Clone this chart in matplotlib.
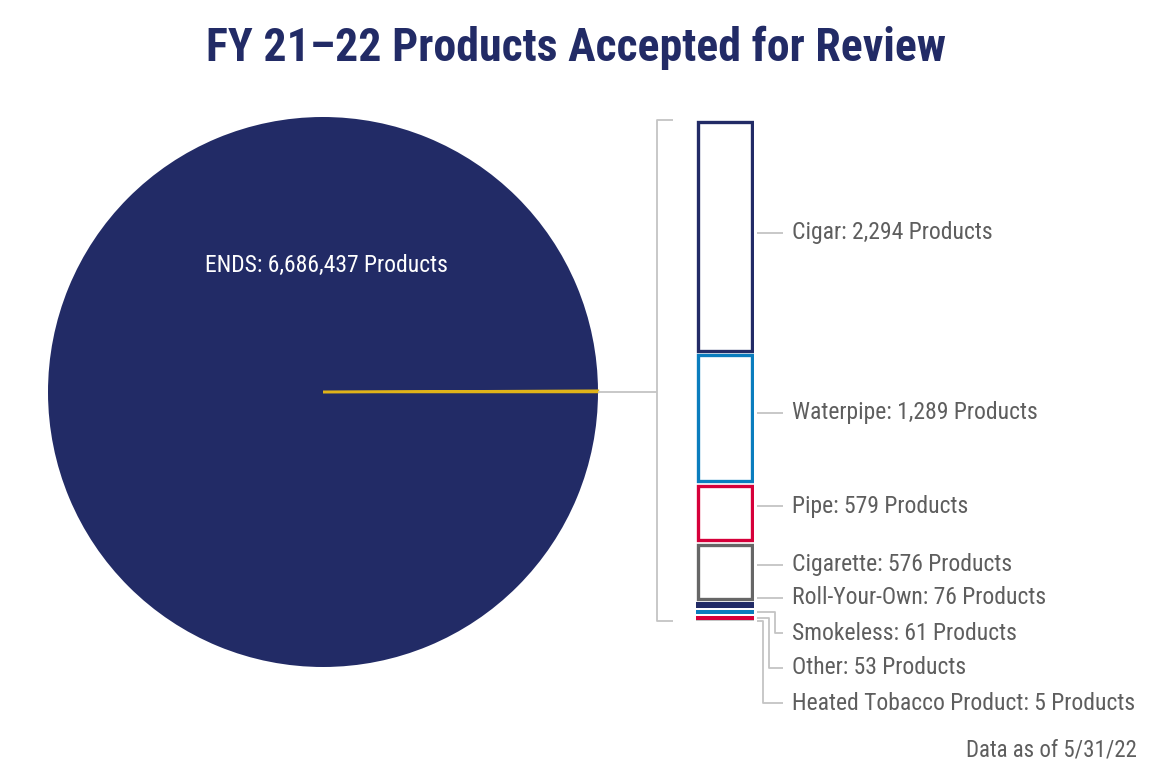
import numpy as np
import matplotlib
matplotlib.use("Agg")
from matplotlib import pyplot as plt
from matplotlib import font_manager

# data
ends_label = "ENDS"
ends_count = 6686437
categories = ["Cigar", "Waterpipe", "Pipe", "Cigarette", "Roll-Your-Own",
              "Smokeless", "Other", "Heated Tobacco Product"]
counts = [2294, 1289, 579, 576, 76, 61, 53, 5]

NAVY = "#222b66"
BLUE = "#0a7dbe"
RED = "#d6003a"
GRAY = "#666666"
LIGHT = "#c4c4c4"
GOLD = "#e0b319"
TEXT = "#5e5e5e"
seg_colors = [NAVY, BLUE, RED, GRAY, NAVY, BLUE, RED, LIGHT]


def weight_num(w):
    if isinstance(w, (int, float)):
        return w
    return font_manager.weight_dict.get(w, 400)


def is_condensed(f):
    st = f.stretch
    if isinstance(st, str):
        return "condensed" in st or "narrow" in st.lower()
    return st <= 600


# look for a condensed face (regular + bold), else fall back to Roboto
cond = [f for f in font_manager.fontManager.ttflist
        if (is_condensed(f) or "Condensed" in f.name or "Narrow" in f.name)
        and f.style == "normal"]
prefer = ["Roboto Condensed", "Roboto", "Liberation Sans Narrow", "Noto Sans",
          "Open Sans", "DejaVu Sans Condensed", "DejaVu Sans"]
reg_fp = bold_fp = None
for fam in prefer:
    fs = [f for f in cond if f.name == fam]
    regs = [f for f in fs if 350 <= weight_num(f.weight) <= 450]
    bolds = [f for f in fs if weight_num(f.weight) >= 600]
    if regs and bolds:
        reg_fp = font_manager.FontProperties(fname=regs[0].fname)
        bolds.sort(key=lambda f: abs(weight_num(f.weight) - 700))
        bold_fp = font_manager.FontProperties(fname=bolds[0].fname)
        break
if reg_fp is None:
    reg_fp = font_manager.FontProperties(family="Roboto")
    bold_fp = font_manager.FontProperties(family="Roboto", weight="bold")
    LABEL_SIZE, ENDS_SIZE, TITLE_SIZE, NOTE_SIZE = 15.5, 15.5, 30, 14
else:
    LABEL_SIZE, ENDS_SIZE, TITLE_SIZE, NOTE_SIZE = 17, 17, 33, 16.5

W, H = 1151, 776
fig = plt.figure(figsize=(W / 100, H / 100), dpi=100)

# overlay axes in pixel coordinates for text and leader lines
ov = fig.add_axes([0, 0, 1, 1])
ov.set_xlim(0, W)
ov.set_ylim(H, 0)
ov.axis("off")
ov.set_zorder(5)


def px_box(x0, y0, x1, y1):
    return [x0 / W, 1 - y1 / H, (x1 - x0) / W, (y1 - y0) / H]


# pie
cx, cy, r = 323, 392, 275
ax_pie = fig.add_axes(px_box(cx - r, cy - r, cx + r, cy + r))
others_total = sum(counts)
wedges, _ = ax_pie.pie([others_total, ends_count], colors=[GOLD, NAVY],
                       startangle=0, counterclock=True, radius=1,
                       wedgeprops=dict(linewidth=0))
wedges[0].set_edgecolor(GOLD)
wedges[0].set_linewidth(1.8)
wedges[0].set_zorder(3)
ax_pie.set_xlim(-1, 1)
ax_pie.set_ylim(-1, 1)
ax_pie.set_aspect("equal")
ax_pie.axis("off")
ov.text(cx + 3, 265, f"{ends_label}: {ends_count:,} Products", color="white",
        fontproperties=reg_fp, fontsize=ENDS_SIZE, ha="center", va="center")

# stacked bar
bx0, bx1, by0, by1 = 696, 754, 120, 621
ax_bar = fig.add_axes(px_box(bx0, by0, bx1, by1))
total = sum(counts)
ax_bar.set_xlim(0, 1)
ax_bar.set_ylim(total, 0)
ax_bar.axis("off")
per_px = total / (by1 - by0)
bottoms = np.concatenate([[0], np.cumsum(counts)[:-1]])
lw = 2.4
half_lw_px = lw * 100 / 72 / 2
for val, b, col in zip(counts, bottoms, seg_colors):
    if val > 300:
        inset = (0.8 + half_lw_px) * per_px
        ax_bar.bar(0.5, val - 2 * inset, bottom=b + inset,
                   width=1 - 2 * half_lw_px / (bx1 - bx0),
                   facecolor="white", edgecolor=col, linewidth=lw)
    else:
        h = max(val - 1.5 * per_px, 1.2 * per_px)
        ax_bar.bar(0.5, h, bottom=b + (val - h) / 2, width=1.0,
                   facecolor=col, edgecolor="none")


# helper: bar data y -> overlay pixel y
def bar_y_px(v):
    disp = ax_bar.transData.transform((0, v))
    return ov.transData.inverted().transform(disp)[1]


mids = [b + v / 2 for b, v in zip(bottoms, counts)]
label_y = [233, 413, 506, 565, 598, 633, 668, 703]
elbow_x = [None, None, None, None, None, 775, 769, 763]
lk = dict(color=LIGHT, linewidth=1.3, solid_capstyle="butt")
for i, name in enumerate(categories):
    y0 = bar_y_px(mids[i])
    if elbow_x[i] is None:
        ov.plot([757, 783], [label_y[i], label_y[i]], **lk)
    else:
        ex = elbow_x[i]
        ov.plot([757, ex, ex, 783], [y0, y0, label_y[i], label_y[i]], **lk)
    ov.text(792, label_y[i], f"{name}: {counts[i]:,} Products", color=TEXT,
            fontproperties=reg_fp, fontsize=LABEL_SIZE, ha="left", va="center")

# bracket and connector from pie
top_px = bar_y_px(0)
bot_px = bar_y_px(total)
ov.plot([673, 657, 657, 673], [top_px, top_px, bot_px, bot_px], **lk)
ov.plot([cx + r, 657], [cy, cy], **lk)

# titles
ov.text(W / 2, 48, "FY 21\u201322 Products Accepted for Review", color=NAVY,
        fontproperties=bold_fp, fontsize=TITLE_SIZE, ha="center", va="center")
ov.text(1137, 750, "Data as of 5/31/22", color=TEXT, fontproperties=reg_fp,
        fontsize=NOTE_SIZE, ha="right", va="center")

fig.savefig("out.png", dpi=100)
